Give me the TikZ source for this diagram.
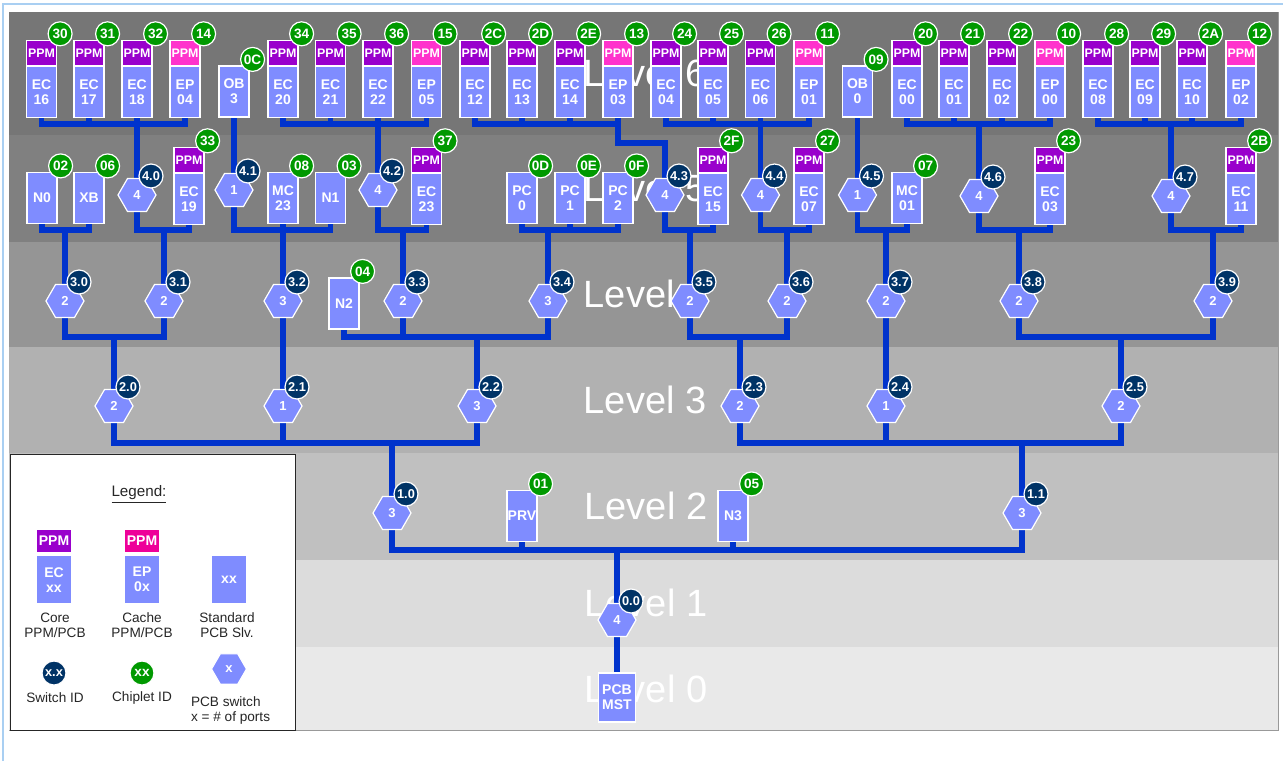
\documentclass[tikz,border=0pt]{standalone}
\usepackage{fontspec}
\setmainfont{Liberation Sans}
\usepackage{tikz}
\usetikzlibrary{shapes.geometric,positioning}
\pgfdeclarelayer{bands}
\pgfdeclarelayer{wires}
\pgfsetlayers{bands,wires,main}

\definecolor{chipblue}{HTML}{7F8CFF}
\definecolor{ppmcore}{HTML}{9900CC}
\definecolor{ppmcache}{HTML}{FF33CC}
\definecolor{ppmlegend}{HTML}{EE0099}
\definecolor{busblue}{HTML}{0033CC}
\definecolor{swidcol}{HTML}{003366}
\definecolor{chipidcol}{HTML}{009900}
\definecolor{framecol}{HTML}{A9CFF2}
\definecolor{lvsix}{HTML}{767676}
\definecolor{lvfive}{HTML}{808080}
\definecolor{lvfour}{HTML}{959595}
\definecolor{lvthree}{HTML}{B1B1B1}
\definecolor{lvtwo}{HTML}{C0C0C0}
\definecolor{lvone}{HTML}{DCDCDC}
\definecolor{lvzero}{HTML}{E9E9E9}

% chip with a PPM on top: name, x, top of body, text, PPM colour, chiplet id
\newcommand{\corechip}[6]{%
  \node[chip,anchor=north] (#1) at (#2,#3) {#4};
  \node[ppm,fill=#5,anchor=south] (#1p) at (#1.north) {PPM};
  \node[cid] (#1id) at ([shift={(3,-6)}]#1p.north east) {#6};}
% plain PCB slave: name, x, y, text, chiplet id
\newcommand{\slvchip}[5]{%
  \node[chip] (#1) at (#2,#3) {#4};
  \node[cid] (#1id) at ([shift={(3,-6)}]#1.north east) {#5};}
% PCB switch: name, x, y, ports, switch id
\newcommand{\pcbsw}[5]{%
  \node[hexsw] (#1) at (#2,#3) {#4};
  \node[sid] (#1id) at ([shift={(14,-19)}]#1.center) {#5};}
% children, bus line, parent
\newcommand{\feed}[3]{%
  \foreach \kid in {#1} {\draw[bus] (\kid.center) |- (#3 |- #2);}
  \draw[bus] (#3 |- #2) -- (#3.center);}

\begin{document}
\begin{tikzpicture}[x=0.5pt,y=-0.5pt,
  chip/.style={rectangle,fill=chipblue,draw=white,line width=0.6pt,minimum width=15pt,
    minimum height=25.5pt,inner sep=0pt,align=center,text=white,
    font=\bfseries\fontsize{7}{7.5}\selectfont},
  ppm/.style={rectangle,draw=white,line width=0.6pt,minimum width=15pt,minimum height=12.5pt,
    inner sep=0pt,text=white,font=\bfseries\fontsize{6.2}{6.2}\selectfont},
  cid/.style={circle,fill=chipidcol,draw=white,line width=0.6pt,minimum size=12pt,inner sep=0pt,
    text=white,font=\bfseries\fontsize{6.8}{6.8}\selectfont},
  sid/.style={circle,fill=swidcol,draw=white,line width=0.6pt,minimum size=12pt,inner sep=0pt,
    text=white,font=\bfseries\fontsize{6.4}{6.4}\selectfont},
  hexsw/.style={regular polygon,regular polygon sides=6,minimum size=19pt,
    inner sep=0pt,fill=chipblue,draw=white,line width=0.6pt,text=white,
    font=\bfseries\fontsize{6.5}{6.5}\selectfont},
  bus/.style={draw=busblue,line width=2.8pt,line cap=rect},
  lvltext/.style={text=white,font=\fontsize{19}{19}\selectfont},
  lgtext/.style={text=black!85,align=center,font=\fontsize{6.8}{7.5}\selectfont}]
\useasboundingbox (0,0) rectangle (1283,761);

\begin{pgfonlayer}{bands}
  \draw[framecol,line width=0.7pt] (3,761) -- (3,4) -- (1283,4);
  \fill[lvsix] (9,12) rectangle (1278,135);
  \fill[lvfive] (9,135) rectangle (1278,242);
  \fill[lvfour] (9,242) rectangle (1278,347);
  \fill[lvthree] (9,347) rectangle (1278,453);
  \fill[lvtwo] (9,453) rectangle (1278,560);
  \fill[lvone] (9,560) rectangle (1278,647);
  \fill[lvzero] (9,647) rectangle (1278,730);
  \draw[black!40] (9,730) -- (1278,730) -- (1278,12);
  \node[lvltext] (lv6) at (645,73) {Level 6};
  \node[lvltext] (lv5) at (645,188) {Level 5};
  \node[lvltext] (lv4) at (645,294) {Level 4};
  \node[lvltext] (lv3) at (645,400) {Level 3};
  \node[lvltext] (lv2) at (646,506) {Level 2};
  \node[lvltext] (lv1) at (646,603) {Level 1};
  \node[lvltext] (lv0) at (646,689) {Level 0};
\end{pgfonlayer}

\coordinate (l6bus) at (0,124);
\coordinate (jog) at (0,143);
\coordinate (l5bus) at (0,230);
\coordinate (l4bus) at (0,337);
\coordinate (l3bus) at (0,443);
\coordinate (l2bus) at (0,550);

% level 6
\corechip{ec16}{41.5}{66}{EC\\16}{ppmcore}{30}
\corechip{ec17}{89}{66}{EC\\17}{ppmcore}{31}
\corechip{ec18}{137}{66}{EC\\18}{ppmcore}{32}
\corechip{ep04}{185}{66}{EP\\04}{ppmcache}{14}
\slvchip{ob3}{234}{91.5}{OB\\3}{0C}
\corechip{ec20}{283}{66}{EC\\20}{ppmcore}{34}
\corechip{ec21}{330.5}{66}{EC\\21}{ppmcore}{35}
\corechip{ec22}{378}{66}{EC\\22}{ppmcore}{36}
\corechip{ep05}{426.5}{66}{EP\\05}{ppmcache}{15}
\corechip{ec12}{475}{66}{EC\\12}{ppmcore}{2C}
\corechip{ec13}{522}{66}{EC\\13}{ppmcore}{2D}
\corechip{ec14}{570}{66}{EC\\14}{ppmcore}{2E}
\corechip{ep03}{618}{66}{EP\\03}{ppmcache}{13}
\corechip{ec04}{666}{66}{EC\\04}{ppmcore}{24}
\corechip{ec05}{713}{66}{EC\\05}{ppmcore}{25}
\corechip{ec06}{760.5}{66}{EC\\06}{ppmcore}{26}
\corechip{ep01}{809}{66}{EP\\01}{ppmcache}{11}
\slvchip{ob0}{857.5}{91.5}{OB\\0}{09}
\corechip{ec00}{907}{66}{EC\\00}{ppmcore}{20}
\corechip{ec01}{954}{66}{EC\\01}{ppmcore}{21}
\corechip{ec02}{1002}{66}{EC\\02}{ppmcore}{22}
\corechip{ep00}{1050}{66}{EP\\00}{ppmcache}{10}
\corechip{ec08}{1098}{66}{EC\\08}{ppmcore}{28}
\corechip{ec09}{1145}{66}{EC\\09}{ppmcore}{29}
\corechip{ec10}{1192}{66}{EC\\10}{ppmcore}{2A}
\corechip{ep02}{1241}{66}{EP\\02}{ppmcache}{12}

% level 5
\slvchip{n0}{42}{198}{N0}{02}
\slvchip{xb}{89}{198}{XB}{06}
\pcbsw{sw40}{137}{195}{4}{4.0}
\corechip{ec19}{189}{173}{EC\\19}{ppmcore}{33}
\pcbsw{sw41}{234}{190}{1}{4.1}
\slvchip{mc23}{283}{198}{MC\\23}{08}
\slvchip{n1}{330.5}{198}{N1}{03}
\pcbsw{sw42}{378}{190}{4}{4.2}
\corechip{ec23}{426.5}{173}{EC\\23}{ppmcore}{37}
\slvchip{pc0}{522}{198}{PC\\0}{0D}
\slvchip{pc1}{570}{198}{PC\\1}{0E}
\slvchip{pc2}{618}{198}{PC\\2}{0F}
\pcbsw{sw43}{665}{195}{4}{4.3}
\corechip{ec15}{713}{173}{EC\\15}{ppmcore}{2F}
\pcbsw{sw44}{760.5}{195}{4}{4.4}
\corechip{ec07}{809}{173}{EC\\07}{ppmcore}{27}
\pcbsw{sw45}{857.5}{195}{1}{4.5}
\slvchip{mc01}{907}{198}{MC\\01}{07}
\pcbsw{sw46}{979}{196}{4}{4.6}
\corechip{ec03}{1050}{173}{EC\\03}{ppmcore}{23}
\pcbsw{sw47}{1171}{196}{4}{4.7}
\corechip{ec11}{1241}{173}{EC\\11}{ppmcore}{2B}

% level 4
\pcbsw{sw30}{65}{301}{2}{3.0}
\pcbsw{sw31}{164}{301}{2}{3.1}
\pcbsw{sw32}{283}{301}{3}{3.2}
\slvchip{n2}{344}{303.5}{N2}{04}
\pcbsw{sw33}{403}{301}{2}{3.3}
\pcbsw{sw34}{548}{301}{3}{3.4}
\pcbsw{sw35}{690}{301}{2}{3.5}
\pcbsw{sw36}{787}{301}{2}{3.6}
\pcbsw{sw37}{886}{301}{2}{3.7}
\pcbsw{sw38}{1019}{301}{2}{3.8}
\pcbsw{sw39}{1213}{301}{2}{3.9}

% level 3
\pcbsw{sw20}{114}{406}{2}{2.0}
\pcbsw{sw21}{283}{406}{1}{2.1}
\pcbsw{sw22}{477}{406}{3}{2.2}
\pcbsw{sw23}{740}{406}{2}{2.3}
\pcbsw{sw24}{886}{406}{1}{2.4}
\pcbsw{sw25}{1121}{406}{2}{2.5}

% level 2, 1, 0
\pcbsw{sw10}{392}{513}{3}{1.0}
\slvchip{prv}{522}{516}{PRV}{01}
\slvchip{n3}{733}{516}{N3}{05}
\pcbsw{sw11}{1022}{513}{3}{1.1}
\pcbsw{sw00}{617}{620}{4}{0.0}
\node[chip,minimum width=18.5pt,minimum height=24.5pt] (mst) at (617,697.5) {PCB\\MST};

\begin{pgfonlayer}{wires}
  \feed{ec16,ec17,ec18,ep04}{l6bus}{sw40}
  \feed{ec20,ec21,ec22,ep05}{l6bus}{sw42}
  \foreach \kid in {ec12,ec13,ec14} {\draw[bus] (\kid.center) |- (ep03 |- l6bus);}
  \draw[bus] (ep03.center) |- (sw43 |- jog) -- (sw43.center);
  \feed{ec04,ec05,ec06,ep01}{l6bus}{sw44}
  \feed{ec00,ec01,ec02,ep00}{l6bus}{sw46}
  \feed{ec08,ec09,ec10,ep02}{l6bus}{sw47}
  \draw[bus] (ob3.center) -- (sw41.center);
  \draw[bus] (ob0.center) -- (sw45.center);
  \feed{n0,xb}{l5bus}{sw30}
  \feed{sw40,ec19}{l5bus}{sw31}
  \feed{sw41,mc23,n1}{l5bus}{sw32}
  \feed{sw42,ec23}{l5bus}{sw33}
  \feed{pc0,pc1,pc2}{l5bus}{sw34}
  \feed{sw43,ec15}{l5bus}{sw35}
  \feed{sw44,ec07}{l5bus}{sw36}
  \feed{sw45,mc01}{l5bus}{sw37}
  \feed{sw46,ec03}{l5bus}{sw38}
  \feed{sw47,ec11}{l5bus}{sw39}
  \feed{sw30,sw31}{l4bus}{sw20}
  \draw[bus] (sw32.center) -- (sw21.center);
  \feed{n2,sw33,sw34}{l4bus}{sw22}
  \feed{sw35,sw36}{l4bus}{sw23}
  \draw[bus] (sw37.center) -- (sw24.center);
  \feed{sw38,sw39}{l4bus}{sw25}
  \feed{sw20,sw21,sw22}{l3bus}{sw10}
  \feed{sw23,sw24,sw25}{l3bus}{sw11}
  \feed{sw10,prv,n3,sw11}{l2bus}{sw00}
  \draw[bus] (sw00.center) -- (mst.center);
\end{pgfonlayer}

% legend
\draw[black!85,fill=white] (10,454) rectangle (295,730);
\node[font=\fontsize{7.6}{7.6}\selectfont,text=black!85] (lgtitle) at (139,495) {\underline{Legend:}};
\node[chip,minimum width=18pt,minimum height=24pt,anchor=north] (lgcore) at (54,555) {EC\\xx};
\node[ppm,fill=ppmcore,minimum width=18pt,minimum height=11.5pt,anchor=south,
  font=\bfseries\fontsize{7}{7}\selectfont] (lgcorep) at (54,553) {PPM};
\node[chip,minimum width=18pt,minimum height=24pt,anchor=north] (lgcache) at (142,555) {EP\\0x};
\node[ppm,fill=ppmlegend,minimum width=18pt,minimum height=11.5pt,anchor=south,
  font=\bfseries\fontsize{7}{7}\selectfont] (lgcachep) at (142,553) {PPM};
\node[chip,minimum width=18pt,minimum height=24pt,anchor=north] (lgslv) at (229,555) {xx};
\node[lgtext] (lgcoret) at (55,625) {Core\\PPM/PCB};
\node[lgtext] (lgcachet) at (142,625) {Cache\\PPM/PCB};
\node[lgtext] (lgslvt) at (227,625) {Standard\\PCB Slv.};
\node[sid] (lgsid) at (54,673) {x.x};
\node[cid] (lgcid) at (142,673) {xx};
\node[hexsw,minimum size=17.5pt] (lgsw) at (229,669) {x};
\node[lgtext] (lgsidt) at (55,698) {Switch ID};
\node[lgtext] (lgcidt) at (142,698) {Chiplet ID};
\node[lgtext,align=left,anchor=north west] (lgswt) at (184,690) {PCB switch\\x = \# of ports};
\end{tikzpicture}
\end{document}
